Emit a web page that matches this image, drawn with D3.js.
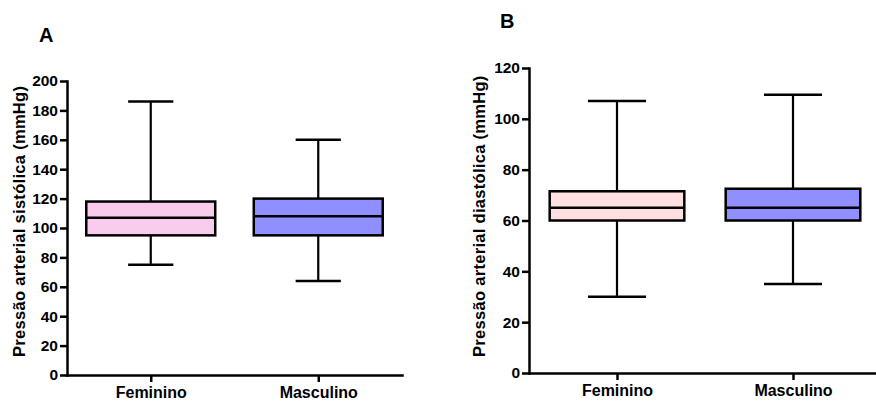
<!DOCTYPE html>
<html>
<head>
<meta charset="utf-8">
<script src="https://cdn.jsdelivr.net/npm/d3@7"></script>
<style>
  body { margin: 0; background: #fff; }
  svg { display: block; font-family: "Liberation Sans", Arial, sans-serif; }
  .axis path, .axis line { stroke: #000; stroke-width: 2.5px; }
  .axis text { font-size: 15.5px; font-weight: bold; fill: #000; }
  .axis.x text { font-size: 16px; }
</style>
</head>
<body>
<svg id="chart" width="876" height="402"></svg>
<script>
// data
var groups = ['Feminino', 'Masculino'];

var sysMin = [75, 64],
    sysQ1 = [95, 95],
    sysMedian = [107, 108],
    sysQ3 = [118, 120],
    sysMax = [186, 160];

var diaMin = [30, 35],
    diaQ1 = [60, 60],
    diaMedian = [65, 65],
    diaQ3 = [71.5, 72.5],
    diaMax = [107, 109.5];

var sysTicks = [0, 20, 40, 60, 80, 100, 120, 140, 160, 180, 200];
var diaTicks = [0, 20, 40, 60, 80, 100, 120];

var svg = d3.select('#chart');

//------------------------------------------------------------
// one box plot panel
//------------------------------------------------------------
function panel(opt) {
    var x = d3.scalePoint().domain(groups).range(opt.xRange).padding(0.5);
    var y = d3.scaleLinear().domain([0, d3.max(opt.ticks)]).range(opt.yRange);
    var step = x.step();

    var g = svg.append('g');

    var stats = groups.map(function(name, i) {
        return {name: name, min: opt.min[i], q1: opt.q1[i], med: opt.median[i],
                q3: opt.q3[i], max: opt.max[i], fill: opt.fills[i]};
    });

    var box = g.selectAll('g.box').data(stats).enter().append('g').attr('class', 'box');

    // whiskers
    box.append('line')
        .attr('x1', function(d) { return x(d.name); })
        .attr('x2', function(d) { return x(d.name); })
        .attr('y1', function(d) { return y(d.min); })
        .attr('y2', function(d) { return y(d.max); })
        .attr('stroke', '#000').attr('stroke-width', 2.2);

    ['min', 'max'].forEach(function(k) {
        box.append('line')
            .attr('x1', function(d) { return x(d.name) - step * opt.cap / 2; })
            .attr('x2', function(d) { return x(d.name) + step * opt.cap / 2; })
            .attr('y1', function(d) { return y(d[k]); })
            .attr('y2', function(d) { return y(d[k]); })
            .attr('stroke', '#000').attr('stroke-width', 2.5);
    });

    box.append('rect')
        .attr('x', function(d) { return x(d.name) - step * opt.boxW / 2; })
        .attr('width', step * opt.boxW)
        .attr('y', function(d) { return y(d.q3); })
        .attr('height', function(d) { return y(d.q1) - y(d.q3); })
        .attr('fill', function(d) { return d.fill; })
        .attr('stroke', '#000').attr('stroke-width', 2.5);

    box.append('line')
        .attr('x1', function(d) { return x(d.name) - step * opt.boxW / 2; })
        .attr('x2', function(d) { return x(d.name) + step * opt.boxW / 2; })
        .attr('y1', function(d) { return y(d.med); })
        .attr('y2', function(d) { return y(d.med); })
        .attr('stroke', '#000').attr('stroke-width', 2.5);

    // axes
    g.append('g').attr('class', 'axis y')
        .attr('transform', 'translate(' + opt.xRange[0] + ',0)')
        .call(d3.axisLeft(y).tickValues(opt.ticks).tickSize(7).tickSizeOuter(0).tickPadding(2));

    g.append('g').attr('class', 'axis x')
        .attr('transform', 'translate(0,' + opt.yRange[0] + ')')
        .call(d3.axisBottom(x).tickSize(7).tickSizeOuter(0).tickPadding(5));

    g.selectAll('.axis .domain').attr('stroke-linecap', 'square');

    // y title
    g.append('text')
        .attr('transform', 'translate(' + opt.titleX + ',357) rotate(-90)')
        .attr('font-size', '16.5px').attr('font-weight', 'bold')
        .attr('letter-spacing', '0.3px')
        .text(opt.title);

    // panel letter
    g.append('text')
        .attr('x', opt.letterPos[0]).attr('y', opt.letterPos[1])
        .attr('font-size', '20px').attr('font-weight', 'bold')
        .text(opt.letter);
}

panel({
    min: sysMin, q1: sysQ1, median: sysMedian, q3: sysQ3, max: sysMax,
    ticks: sysTicks, xRange: [67, 402], yRange: [375, 81],
    fills: ['#f9ccee', '#8f8fff'], boxW: 0.77, cap: 0.27,
    title: 'Pressão arterial sistólica (mmHg)', titleX: 25,
    letter: 'A', letterPos: [39, 42]
});

panel({
    min: diaMin, q1: diaQ1, median: diaMedian, q3: diaQ3, max: diaMax,
    ticks: diaTicks, xRange: [529, 881], yRange: [373, 68],
    fills: ['#ffdfe0', '#8f8fff'], boxW: 0.765, cap: 0.33,
    title: 'Pressão arterial diastólica (mmHg)', titleX: 485,
    letter: 'B', letterPos: [500, 28]
});
</script>
</body>
</html>
